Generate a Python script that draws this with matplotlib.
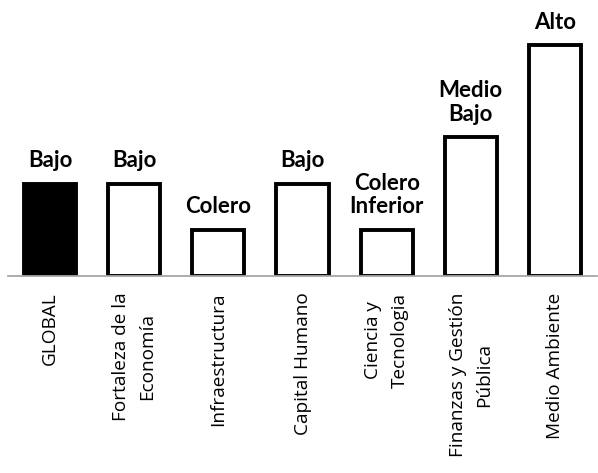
import matplotlib
matplotlib.use("Agg")
import matplotlib.pyplot as plt

plt.rcParams['font.family'] = ['Open Sans', 'DejaVu Sans']

categorias = ["GLOBAL", "Fortaleza de la\nEconomía", "Infraestructura", "Capital Humano",
              "Ciencia y\nTecnologia", "Finanzas y Gestión\nPública", "Medio Ambiente"]
niveles = [2, 2, 1, 2, 1, 3, 5]
etiquetas = ["Bajo", "Bajo", "Colero", "Bajo", "Colero\nInferior", "Medio\nBajo", "Alto"]
rellenos = ["black", "white", "white", "white", "white", "white", "white"]

fig = plt.figure(figsize=(5.98, 4.73), dpi=100)
ax = fig.add_axes([8 / 598, 197 / 473, 0.985, 266 / 473])

x = range(len(categorias))
bars = ax.bar(x, niveles, width=0.62, color=rellenos, edgecolor="black", linewidth=2.8, zorder=2)

for b, txt in zip(bars, etiquetas):
    ax.annotate(txt, (b.get_x() + b.get_width() / 2, b.get_height()),
                xytext=(0, 9), textcoords="offset points", ha="center", va="bottom",
                fontsize=16, fontweight="bold", family="Lato", linespacing=1.15)

ax.set_xlim(-0.5, 6.5)
ax.set_ylim(0, 5.76)
ax.set_xticks(list(x))
ax.set_xticklabels(categorias, rotation=90, fontsize=13.7,
                   multialignment="center", linespacing=1.6)
ax.tick_params(axis="x", length=0, pad=12)
ax.set_yticks([])
for s in ["top", "right", "left"]:
    ax.spines[s].set_visible(False)
ax.spines["bottom"].set_color("#a6a6a6")
ax.spines["bottom"].set_linewidth(1.3)

fig.savefig("out.png", dpi=100)
